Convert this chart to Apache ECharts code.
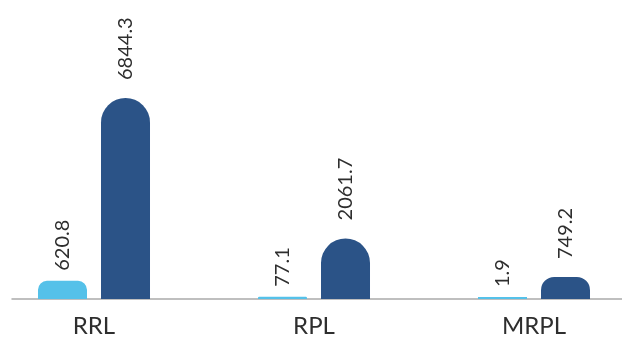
<!DOCTYPE html>
<html>
<head>
<meta charset="utf-8">
<script src="https://cdn.jsdelivr.net/npm/echarts@6/dist/echarts.min.js"></script>
<style>
  html, body { margin: 0; padding: 0; background: #fff; overflow: hidden; width: 622px; height: 340px; position: relative; }
  /* canvas is a bit wider than the page so the outer category bands can bleed off both edges */
  #chart { position: absolute; left: -16px; top: 0; width: 660px; height: 340px; }
</style>
</head>
<body>
<div id="chart"></div>
<script>
// Categories and the two series
const categories = ['RRL', 'RPL', 'MRPL'];
const lightValues = [620.8, 77.1, 1.9];
const darkValues = [6844.3, 2061.7, 749.2];

const LIGHT = '#55C1E9';
const DARK = '#2B5387';
const TEXT = '#2E2E2E';
const FONT = 'Lato, "Noto Sans", sans-serif';

const plotHeight = 201;
const barWidth = 49;
const maxValue = Math.max(...darkValues, ...lightValues);

// Corner radius shrinks for short bars so the top stays flat-ish
function rounded(values, cap, k) {
  return values.map(v => {
    const h = v / maxValue * plotHeight;
    const r = Math.min(cap, h * k);
    return { value: v, itemStyle: { borderRadius: [r, r, 0, 0] } };
  });
}

const labelBase = {
  show: true,
  position: 'top',
  rotate: 90,
  align: 'left',
  verticalAlign: 'middle',
  color: TEXT,
  fontFamily: FONT,
  fontWeight: 400,
  fontSize: 20
};

const chart = echarts.init(document.getElementById('chart'));
chart.setOption({
  animation: false,
  grid: [
    { left: 0, right: 0, top: 98, bottom: 41 },
    { left: 28, right: 22, top: 98, bottom: 41 }
  ],
  xAxis: [
    {
      gridIndex: 0,
      type: 'category',
      data: categories,
      axisLine: { show: false },
      axisTick: { show: false },
      axisLabel: { color: TEXT, fontFamily: FONT, fontWeight: 400, fontSize: 24, margin: 15 }
    },
    {
      // baseline rule under the bars
      gridIndex: 1,
      type: 'value',
      min: 0, max: 1,
      axisLine: { show: true, lineStyle: { color: '#AAAAAA', width: 1.5 } },
      axisTick: { show: false },
      axisLabel: { show: false },
      splitLine: { show: false }
    }
  ],
  yAxis: [
    { gridIndex: 0, type: 'value', min: 0, max: maxValue, show: false },
    { gridIndex: 1, type: 'value', min: 0, max: 1, show: false }
  ],
  series: [
    {
      type: 'bar',
      xAxisIndex: 0, yAxisIndex: 0,
      data: rounded(lightValues, 9, 0.56),
      barWidth: barWidth,
      barGap: '28.6%',
      barMinHeight: 2,
      itemStyle: { color: LIGHT },
      label: Object.assign({}, labelBase, { distance: 10 })
    },
    {
      type: 'bar',
      xAxisIndex: 0, yAxisIndex: 0,
      data: rounded(darkValues, barWidth / 2, 0.6),
      barWidth: barWidth,
      barGap: '28.6%',
      itemStyle: { color: DARK },
      label: Object.assign({}, labelBase, { distance: 18 })
    }
  ]
});
</script>
</body>
</html>
